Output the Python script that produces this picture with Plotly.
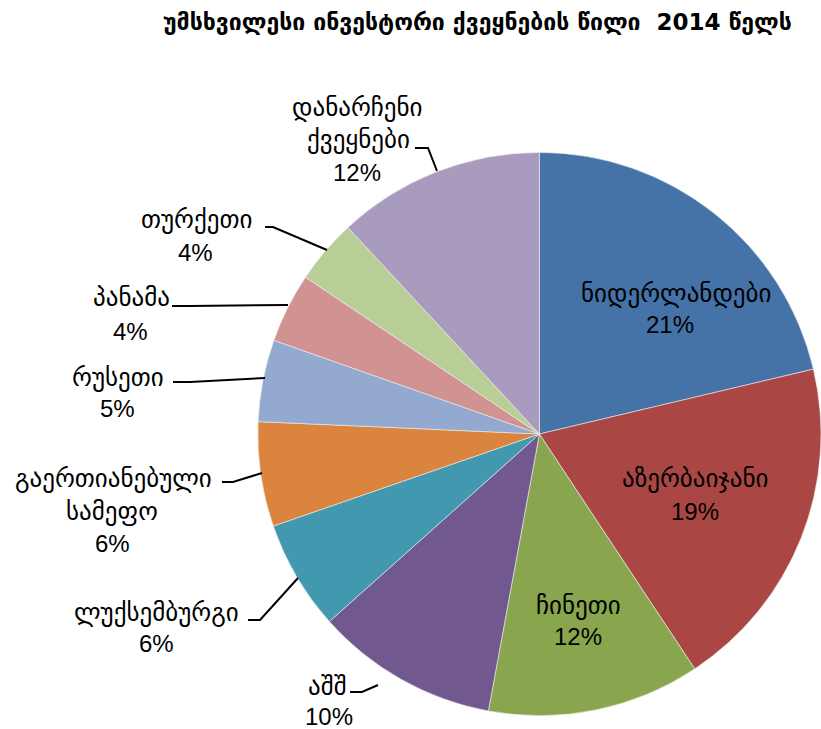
import plotly.graph_objects as go

# ---- data ----
countries = ["ნიდერლანდები", "აზერბაიჯანი", "ჩინეთი", "აშშ", "ლუქსემბურგი",
             "გაერთიანებული სამეფო", "რუსეთი", "პანამა", "თურქეთი", "დანარჩენი ქვეყნები"]
shares = [21.3, 19.4, 12.2, 10.5, 6.3, 6.0, 4.7, 4.0, 3.7, 11.9]
pct_labels = ["21%", "19%", "12%", "10%", "6%", "6%", "5%", "4%", "4%", "12%"]
colors = ["#4572A7", "#AA4643", "#89A54E", "#71588F", "#4198AF",
          "#DB843D", "#93A9CF", "#D19392", "#B9CD96", "#A99BBD"]
title_text = "უმსხვილესი ინვესტორი ქვეყნების წილი  2014 წელს"

W, H = 821, 729
GEO_FONT = "DejaVu Sans"
NUM_FONT = "Liberation Sans, Arial"

fig = go.Figure(go.Pie(
    labels=countries, values=shares, sort=False, direction="clockwise",
    rotation=0, textinfo="none", hoverinfo="label+percent",
    marker=dict(colors=colors, line=dict(color="#f0f0f0", width=0.6)),
    domain=dict(x=[0.314, 1.0], y=[0.0178, 0.7915]),
    showlegend=False,
))

def px(x):
    return x / W

def py(y):
    return 1 - y / H

# label layout (pixel positions of each text line: (x_center, y_center))
label_lines = [
    [(676, 293), (670, 325)],
    [(695, 478), (695, 511)],
    [(578, 605), (578, 636)],
    [(327, 686), (329, 716)],
    [(156, 612), (156, 643)],
    [(113, 478), (112, 511), (112, 543)],
    [(118, 377), (117, 408)],
    [(131, 297), (130, 331)],
    [(196, 219), (195, 252)],
    [(357, 107), (358, 140), (357, 172)],
]

annotations = []
for name, pct, lines in zip(countries, pct_labels, label_lines):
    words = name.split(" ")
    texts = words + [pct]
    for t, (x, y) in zip(texts, lines):
        is_num = t.endswith("%")
        annotations.append(dict(
            x=px(x), y=py(y), xref="paper", yref="paper",
            text=t, showarrow=False, xanchor="center", yanchor="middle",
            font=dict(family=NUM_FONT if is_num else GEO_FONT,
                      size=24 if is_num else 25, color="#000000"),
        ))

annotations.append(dict(
    x=px(477), y=py(22), xref="paper", yref="paper", text="<b>" + title_text + "</b>",
    showarrow=False, xanchor="center", yanchor="middle",
    font=dict(family=GEO_FONT, size=23, color="#000000"),
))

# leader lines (pixel paths)
leaders = [
    [(350, 692), (362, 692), (378, 685)],
    [(248, 620), (260, 620), (298, 578)],
    [(222, 482), (233, 482), (262, 473)],
    [(173, 382), (190, 382), (265, 378)],
    [(172, 306), (190, 306), (288, 305)],
    [(265, 227), (273, 227), (327, 250)],
    [(415, 148), (428, 148), (437, 171)],
]
shapes = []
for pts in leaders:
    path = "M " + " L ".join(f"{px(x)},{py(y)}" for x, y in pts)
    shapes.append(dict(type="path", path=path, xref="paper", yref="paper",
                       line=dict(color="#000000", width=2)))

fig.update_layout(
    width=W, height=H, margin=dict(l=0, r=0, t=0, b=0),
    paper_bgcolor="white", plot_bgcolor="white",
    annotations=annotations, shapes=shapes,
)

fig.write_html("out.html", config={"displayModeBar": False},
               post_script="document.body.style.margin='0';document.body.style.overflow='hidden';")
